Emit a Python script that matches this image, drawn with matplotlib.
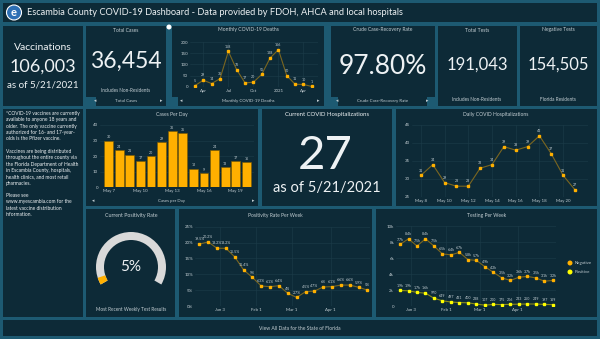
import datetime as dt

import matplotlib.pyplot as plt
import pandas as pd
from matplotlib.patches import Rectangle, Wedge, Ellipse

plt.rcParams['font.family'] = ['Lato', 'DejaVu Sans']

W, H = 600, 339
BG = '#1d5a72'
PANEL = '#0d2a37'
TXT = '#eef2f4'
SUB = '#c3ced3'
GRID = '#1d3c49'
LINE = '#7a6620'
ORANGE = '#ffb000'
YELLOW = '#ffff00'

# ---- data ----
deaths = [5, 29, 14, 36, 158, 76, 17, 20, 55, 128, 166, 50, 11, 10, 1]   # Mar 2020 .. May 2021
death_ticks = [1, 4, 7, 10, 13]
death_ticklabels = ['Apr', 'Jul', 'Oct', '2021', 'Apr']

cases = [30, 24, 21, 17, 20, 29, 36, 35, 12, 9, 24, 13, 17, 16]          # May 7 .. May 20
case_ticks = [0, 3, 6, 9, 12]
case_ticklabels = ['May 7', 'May 10', 'May 13', 'May 16', 'May 19']

hosp = [31, 34, 29, 28, 28, 33, 34, 39, 38, 39, 42, 37, 31, 27]          # May 8 .. May 21
hosp_ticks = [0, 2, 4, 6, 8, 10, 12]
hosp_ticklabels = ['May 8', 'May 10', 'May 12', 'May 14', 'May 16', 'May 18', 'May 20']

pos_weeks = pd.date_range('2020-12-18', periods=20, freq='7D')
pos_rate = [19.5, 20.2, 18.2, 18.2, 15.5, 11.4, 9.0, 6.3, 6.1, 6.4,
            4.0, 2.7, 4.5, 4.7, 6.0, 6.1, 6.6, 6.6, 5.9, 5.0]

test_weeks = pd.date_range('2020-12-25', periods=19, freq='7D')
negative = [7700, 8400, 7500, 8400, 7500, 6500, 6400, 6700, 5800, 5700,
            4900, 4200, 3500, 3200, 3600, 3700, 3500, 3100, 3200]
positive = [1940, 1900, 1700, 1600, 970, 649, 497, 431, 400, 238,
            107, 200, 175, 206, 233, 250, 249, 197, 169]

week_ticks = [dt.datetime(2021, 1, 3), dt.datetime(2021, 2, 1),
              dt.datetime(2021, 3, 1), dt.datetime(2021, 4, 1)]
week_ticklabels = ['Jan 3', 'Feb 1', 'Mar 1', 'Apr 1']

current_positivity = 5

fig = plt.figure(figsize=(W / 100, H / 100), dpi=100, facecolor=BG)


def T(x, y, s, size, color=TXT, ha='center', va='center', **kw):
    fig.text(x / W, 1 - y / H, s, fontsize=size, color=color, ha=ha, va=va, **kw)


def rect(x0, y0, x1, y1, color=PANEL):
    fig.patches.append(Rectangle((x0 / W, 1 - y1 / H), (x1 - x0) / W, (y1 - y0) / H,
                                 transform=fig.transFigure, facecolor=color,
                                 edgecolor='none', zorder=-10))


def ax_px(x0, y0, x1, y1):
    return fig.add_axes([x0 / W, 1 - y1 / H, (x1 - x0) / W, (y1 - y0) / H])


def style(ax):
    ax.set_facecolor('none')
    for s in ax.spines.values():
        s.set_visible(False)
    ax.tick_params(colors=SUB, labelsize=3.2, length=0, pad=1.5)
    ax.grid(True, color=GRID, lw=0.4)
    ax.set_axisbelow(True)


def labels(ax, xs, ys, texts, dy=2.0):
    for x, y, t in zip(xs, ys, texts):
        ax.annotate(t, (x, y), xytext=(0, dy), textcoords='offset points',
                    ha='center', va='bottom', fontsize=2.6, color=SUB)


def kfmt(v):
    return f'{v / 1000:.1f}k' if v >= 1000 else str(v)


MS = 1.9

# ---- panels ----
panels = [(3, 3, 597, 22), (3, 26, 83, 106), (86, 26, 166, 106), (172, 26, 324, 106),
          (331, 26, 435, 106), (438, 26, 517, 106), (520, 26, 597, 106),
          (3, 109, 83, 317), (86, 109, 258, 206), (262, 109, 392, 206),
          (396, 109, 597, 206), (86, 209, 175, 317), (179, 209, 372, 317),
          (376, 209, 597, 317), (3, 320, 597, 336)]
for p in panels:
    rect(*p)
# little scroll blocks at the bottom of the first row
for p in [(86, 97, 96, 106), (166, 97, 178, 106), (324, 97, 338, 106), (427, 97, 435, 106)]:
    rect(*p, color=BG)
fig.patches.append(Ellipse((169 / W, 1 - 27 / H), 5 / W, 5 / H, transform=fig.transFigure,
                           facecolor='white', edgecolor='none', zorder=3))

# ---- header ----
fig.patches.append(Ellipse((14 / W, 1 - 12.5 / H), 15 / W, 15 / H, transform=fig.transFigure,
                           facecolor='#2d6fb4', edgecolor='white', lw=0.8, zorder=3))
T(14, 12, 'e', 8, color='white', weight='bold', zorder=4)
T(27, 12.5, 'Escambia County COVID-19 Dashboard - Data provided by FDOH, AHCA and local hospitals',
  6.7, ha='left')

# ---- row 1 ----
T(43, 48, 'Vaccinations', 7.5)
T(43, 67, '106,003', 13)
T(43, 85, 'as of 5/21/2021', 7)

T(126, 30, 'Total Cases', 3.6, color=SUB)
T(126, 61, '36,454', 16.5)
T(126, 91, 'Includes Non-Residents', 3.4, color=SUB)
T(126, 101, 'Total Cases', 3.2, color=SUB)
T(95, 101, '◂', 3.5, color=SUB)
T(161, 101, '▸', 3.5, color=SUB)

T(248, 30, 'Monthly COVID-19 Deaths', 3.6, color=SUB)
T(248, 101, 'Monthly COVID-19 Deaths', 3.2, color=SUB)
T(181, 101, '◂', 3.5, color=SUB)
T(318, 101, '▸', 3.5, color=SUB)

T(383, 30, 'Crude Case-Recovery Rate', 3.6, color=SUB)
T(383, 66, '97.80%', 19)
T(383, 101, 'Crude Case-Recovery Rate', 3.2, color=SUB)
T(337, 101, '◂', 3.5, color=SUB)
T(427, 101, '▸', 3.5, color=SUB)

T(477, 30, 'Total Tests', 3.6, color=SUB)
T(477, 65, '191,043', 12)
T(477, 100, 'Includes Non-Residents', 3.4, color=SUB)

T(558, 30, 'Negative Tests', 3.6, color=SUB)
T(558, 65, '154,505', 12)
T(558, 100, 'Florida Residents', 3.4, color=SUB)

ax = ax_px(190, 42, 318, 86.7)
style(ax)
xs = list(range(len(deaths)))
ax.plot(xs, deaths, color=LINE, lw=0.8, marker='s', ms=MS, mfc=ORANGE, mec=ORANGE)
labels(ax, xs, deaths, [str(v) for v in deaths])
ax.set_xlim(-0.6, 14.75)
ax.set_ylim(0, 200)
ax.set_yticks([0, 50, 100, 150, 200])
ax.set_xticks(death_ticks, death_ticklabels)

# ---- row 2 ----
info = ("*COVID-19 vaccines are currently\navailable to anyone 18 years and\n"
        "older. The only vaccine currently\nauthorized for 16- and 17-year-\n"
        "olds is the Pfizer vaccine.\n\n"
        "Vaccines are being distributed\nthroughout the entire county via\n"
        "the Florida Department of Health\nin Escambia County, hospitals,\n"
        "health clinics, and most retail\npharmacies.\n\n"
        "Please see\nwww.myescambia.com for the\nlatest vaccine distribution\ninformation.")
T(6, 111, info, 3.5, ha='left', va='top', linespacing=1.33)

T(172, 114, 'Cases Per Day', 3.6, color=SUB)
T(172, 201, 'Cases per Day', 3.2, color=SUB)
T(93, 201, '◂', 3.5, color=SUB)
T(253, 201, '▸', 3.5, color=SUB)
ax = ax_px(100, 125, 254, 187.3)
style(ax)
ax.grid(axis='x', visible=False)
xs = list(range(len(cases)))
ax.bar(xs, cases, width=0.82, color=ORANGE, edgecolor='#7a5800', lw=0.4)
labels(ax, xs, cases, [str(v) for v in cases], dy=0.8)
ax.set_xlim(-0.81, 13.72)
ax.set_ylim(0, 40)
ax.set_yticks([0, 10, 20, 30, 40])
ax.set_xticks(case_ticks, case_ticklabels)

T(327, 114, 'Current COVID Hospitalizations', 4.3)
T(325, 156, '27', 34)
T(327, 188, 'as of 5/21/2021', 10.5)

T(496, 114, 'Daily COVID Hospitalizations', 3.6, color=SUB)
ax = ax_px(411.7, 125, 588, 197)
style(ax)
xs = list(range(len(hosp)))
ax.plot(xs, hosp, color=LINE, lw=0.8, marker='s', ms=MS, mfc=ORANGE, mec=ORANGE)
labels(ax, xs, hosp, [str(v) for v in hosp])
ax.set_xlim(-0.78, 14.1)
ax.set_ylim(25, 45)
ax.set_yticks([25, 30, 35, 40, 45])
ax.set_xticks(hosp_ticks, hosp_ticklabels)

# ---- row 3 ----
T(131, 215, 'Current Positivity Rate', 3.8, color=SUB)
T(131, 310, 'Most Recent Weekly Test Results', 3.4, color=SUB)
ax = ax_px(91, 227, 171, 307)
ax.set_xlim(-40, 40)
ax.set_ylim(-40, 40)
ax.axis('off')
start, end = 210, -30
ax.add_patch(Wedge((0, 0), 35, end, start, width=8, facecolor='#d9d9d9', edgecolor='none'))
val_deg = start - (start - end) * current_positivity / 100
ax.add_patch(Wedge((0, 0), 35, val_deg, start, width=8, facecolor=ORANGE, edgecolor='none'))
T(131, 267, f'{current_positivity}%', 11)

T(275, 215, 'Positivity Rate Per Week', 3.6, color=SUB)
ax = ax_px(195, 226.7, 370, 306)
style(ax)
ax.plot(pos_weeks, pos_rate, color=LINE, lw=0.8, marker='s', ms=MS, mfc=ORANGE, mec=ORANGE)
labels(ax, pos_weeks, pos_rate, [f'{v:g}%' for v in pos_rate])
ax.set_xlim(pos_weeks[0] - pd.Timedelta(days=3.4), pos_weeks[-1] + pd.Timedelta(days=2))
ax.set_ylim(0, 25)
ax.set_yticks([0, 5, 10, 15, 20, 25], ['0%', '5%', '10%', '15%', '20%', '25%'])
ax.set_xticks(week_ticks, week_ticklabels)

T(487, 215, 'Testing Per Week', 3.6, color=SUB)
ax = ax_px(396, 226, 556, 306)
style(ax)
ax.plot(test_weeks, negative, color=LINE, lw=0.8, marker='s', ms=MS, mfc=ORANGE, mec=ORANGE)
ax.plot(test_weeks, positive, color='#8a8a1a', lw=0.8, marker='s', ms=MS, mfc=YELLOW, mec=YELLOW)
labels(ax, test_weeks, negative, [kfmt(v) for v in negative])
labels(ax, test_weeks, positive, [kfmt(v) for v in positive])
ax.set_xlim(test_weeks[0] - pd.Timedelta(days=3.3), test_weeks[-1] + pd.Timedelta(days=2.5))
ax.set_ylim(0, 10000)
ax.set_yticks([0, 2000, 4000, 6000, 8000, 10000], ['0', '2k', '4k', '6k', '8k', '10k'])
ax.set_xticks(week_ticks, week_ticklabels)

for yy, c, name in [(263, ORANGE, 'Negative'), (272, YELLOW, 'Positive')]:
    fig.patches.append(Ellipse((570 / W, 1 - yy / H), 5 / W, 5 / H, transform=fig.transFigure,
                               facecolor=c, edgecolor='none', zorder=3))
    T(575, yy, name, 3.2, color=SUB, ha='left')

# ---- footer ----
T(300, 328, 'View All Data for the State of Florida', 3.6, color=SUB)

fig.savefig('out.png', dpi=100, facecolor=BG)
